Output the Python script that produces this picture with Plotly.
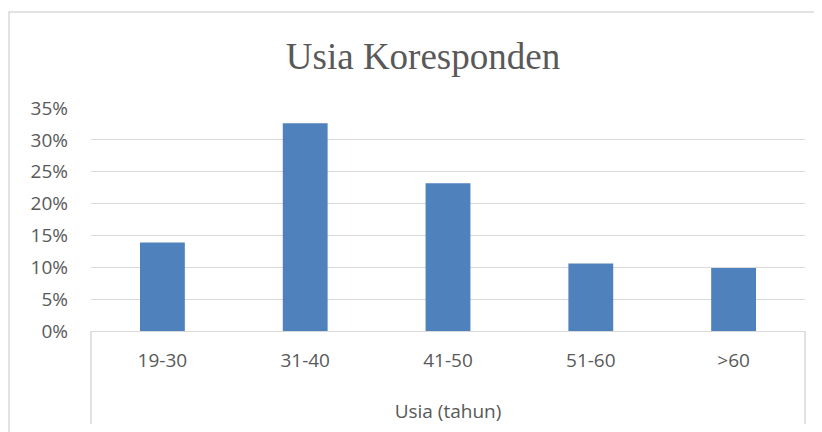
import plotly.graph_objects as go

# ---- data ----
categories = ["19-30", "31-40", "41-50", "51-60", ">60"]
values = [0.139, 0.326, 0.232, 0.106, 0.099]
title_text = "Usia Koresponden"
x_title = "Usia (tahun)"

OFF = 8  # page body margin offset
W, H = 822 - OFF, 432 - OFF
L, R, T, B = 91 - OFF, 805 - OFF, 108 - OFF, 331 - OFF  # plot area in figure pixels

def px(x):
    return (x - L) / (R - L)

def py(y):
    return (B - y) / (B - T)

GRID = "#d9d9d9"
TXT = "#595959"
FONT = "Open Sans"

fig = go.Figure(go.Bar(
    x=categories, y=values,
    marker=dict(color="#4F81BD", line=dict(width=0)),
))

fig.update_layout(
    width=W, height=H,
    margin=dict(l=L, r=W - R, t=T, b=H - B),
    paper_bgcolor="white", plot_bgcolor="white",
    bargap=0.686,
    showlegend=False,
    title=dict(text=title_text, x=(423 - OFF) / W, xanchor="center",
               y=1 - (56 - OFF) / H, yanchor="middle", yref="container", xref="container",
               font=dict(family="Liberation Serif", size=37, color=TXT)),
    font=dict(family=FONT, color=TXT, size=19),
)

fig.update_yaxes(
    range=[0, 0.35], dtick=0.05, tickformat=".0%",
    showgrid=True, gridcolor=GRID, gridwidth=1,
    zeroline=False, showline=False, ticks="",
    ticklabelstandoff=22,
    tickfont=dict(family=FONT, size=19, color=TXT),
)
fig.update_xaxes(
    showline=True, linecolor=GRID, linewidth=1,
    ticks="", showgrid=False,
    ticklabelstandoff=12,
    tickfont=dict(family=FONT, size=19, color=TXT),
    title=dict(text=x_title, standoff=32, font=dict(family=FONT, size=19, color=TXT)),
)

shapes = []
# chart border (left and top)
shapes.append(dict(type="path", xref="paper", yref="paper",
                   path=f"M {px(9 - OFF)} {py(H + 5)} L {px(9 - OFF)} {py(12 - OFF)} L {px(W + 5)} {py(12 - OFF)}",
                   line=dict(color=GRID, width=1.5)))
# category axis box sides
for xx in (L, R):
    shapes.append(dict(type="line", xref="paper", yref="paper",
                       x0=px(xx), x1=px(xx), y0=py(B), y1=py(424 - OFF),
                       line=dict(color=GRID, width=1.5)))
fig.update_layout(shapes=shapes)

fig.write_html("out.html")
